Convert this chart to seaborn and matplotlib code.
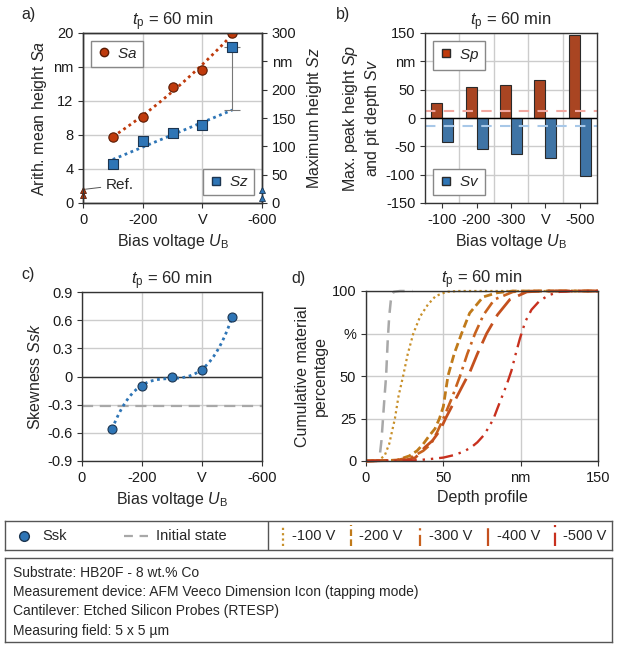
import numpy as np
import pandas as pd
import matplotlib
matplotlib.use("Agg")
import matplotlib.pyplot as plt
from matplotlib.lines import Line2D
import seaborn as sns

# ---- data ----
voltages = [-100, -200, -300, -400, -500]
volt_cats = ["-100", "-200", "-300", "-400", "-500"]
bar_ticklabels = ["-100", "-200", "-300", "V", "-500"]

sa_nm = [7.8, 10.1, 13.7, 15.7, 20.0]        # left axis, nm
sz_nm = [69, 109, 123, 137, 276]             # right axis, nm
sa_ref = [1.5, 1.0]
sz_ref = [23, 9]

sp_nm = [27, 55, 59, 67, 146]
sv_nm = [-42, -54, -63, -70, -102]
sp_init = 13
sv_init = -14

ssk = [-0.56, -0.10, -0.01, 0.07, 0.63]
ssk_init = -0.31

# cumulative material curves (depth nm, percent)
depth_init = [0, 7, 9, 10, 11, 12, 13, 14, 15, 16, 17, 18, 22, 30]
pct_init = [0, 0, 4, 12, 25, 38, 50, 70, 85, 94, 98, 99.5, 100, 100]
depth_100 = [0, 8, 12, 15, 18.7, 21, 24, 27, 30.6, 35, 40, 45, 52, 60, 150]
pct_100 = [0, 0.5, 3, 10, 25, 38, 50, 63, 75, 85, 92, 97, 99.5, 100, 100]
depth_200 = [0, 20, 28, 33, 37, 41, 44.6, 47.5, 50, 53, 57, 61.8, 67, 75.7, 85, 95, 150]
pct_200 = [0, 0.5, 3, 6, 10, 15, 19, 25, 32, 50, 63, 75, 87, 96.5, 99, 100, 100]
depth_300 = [0, 20, 30, 37, 42, 46, 50, 55.5, 60.8, 65.5, 70.5, 76, 83, 95, 105, 150]
pct_300 = [0, 0.5, 2.5, 6, 10, 17, 25, 37, 50, 63, 75, 86, 95, 99.5, 100, 100]
depth_400 = [0, 25, 32, 38, 43, 47.8, 52, 56, 60, 64, 67, 72, 78, 85, 93, 104, 115, 150]
pct_400 = [0, 0.5, 2, 8, 12, 18, 26, 33, 40, 47, 52, 63, 75, 86, 95, 99.5, 100, 100]
depth_500 = [0, 30, 40, 50, 57, 63, 68, 72, 76, 79.5, 82.5, 85, 88, 91, 94,
             96.5, 99.5, 103, 107, 112, 118, 125, 135, 150]
pct_500 = [0, 0.3, 1, 2, 3.5, 5.5, 8, 11, 15, 20, 25, 31, 38, 45, 53,
           62, 72, 82, 89, 94, 97.5, 99.5, 100, 100]

info_lines = ["Substrate: HB20F - 8 wt.% Co",
              "Measurement device: AFM Veeco Dimension Icon (tapping mode)",
              "Cantilever: Etched Silicon Probes (RTESP)",
              "Measuring field: 5 x 5 \u00b5m"]

# ---- style ----
sns.set_style("ticks")
plt.rcParams["font.family"] = ["Liberation Sans", "DejaVu Sans"]
plt.rcParams["font.size"] = 10
plt.rcParams["axes.labelsize"] = 11.5
plt.rcParams["xtick.labelsize"] = 10.5
plt.rcParams["ytick.labelsize"] = 10.5
plt.rcParams["mathtext.fontset"] = "custom"
plt.rcParams["mathtext.rm"] = "Liberation Sans"
plt.rcParams["mathtext.it"] = "Liberation Sans:italic"
plt.rcParams["axes.edgecolor"] = "#333333"
plt.rcParams["axes.linewidth"] = 1.0
plt.rcParams["xtick.color"] = "#333333"
plt.rcParams["ytick.color"] = "#333333"
plt.rcParams["xtick.labelcolor"] = "#1a1a1a"
plt.rcParams["ytick.labelcolor"] = "#1a1a1a"
plt.rcParams["xtick.major.size"] = 3.5
plt.rcParams["ytick.major.size"] = 3.5

red = "#BF3A0C"
red_edge = "#5a1c05"
blue = "#2E75B6"
blue_edge = "#1c3550"
grid_c = "#CCCCCC"
c100, c200, c300, c400, c500 = "#C8902A", "#C07A1A", "#C8621E", "#C4501E", "#C8301E"
gray = "#A8A8A8"

title = r"$t_\mathrm{p}$ = 60 min"
title_fs = 12
bias_label = r"Bias voltage $U_\mathrm{B}$"

W, H = 622, 647
fig = plt.figure(figsize=(W / 100, H / 100), dpi=100)


def rect(l, t, r, b):
    return [l / W, (H - b) / H, (r - l) / W, (b - t) / H]


def grid_on(ax):
    ax.grid(True, color=grid_c, lw=1)
    ax.set_axisbelow(True)


# ---- a) Sa / Sz ----
ax = fig.add_axes(rect(83, 33, 262, 203))
grid_on(ax)
ax.set_xlim(0, -600)
ax.set_ylim(0, 20)
ax.set_xticks([0, -200, -400, -600], ["0", "-200", "V", "-600"])
ax.set_yticks([0, 4, 8, 12, 16, 20], ["0", "4", "8", "12", "nm", "20"])
coef_sa = np.polyfit(voltages, sa_nm, 2)
xs = np.linspace(voltages[0], voltages[-1], 60)
ax.plot(xs, np.polyval(coef_sa, xs), ls=(0, (1, 1.3)), color=red, lw=2)
sns.scatterplot(x=voltages, y=sa_nm, ax=ax, color=red, edgecolor=red_edge,
                s=45, marker="o", linewidth=0.8, zorder=5, legend=False)
ax.plot([0] * len(sa_ref), sa_ref, ls="", marker="^", ms=5, color=red,
        mec=red_edge, mew=0.6, clip_on=False, zorder=6)
ax.annotate("Ref.", xy=(-3, 1.6), xytext=(-75, 2.1), va="center", ha="left",
            fontsize=11,
            arrowprops=dict(arrowstyle="-", color="#555555", lw=0.7,
                            shrinkA=1, shrinkB=1))
ax.set_xlabel(bias_label)
ax.set_ylabel(r"Arith. mean height $Sa$", labelpad=3)
ax.set_title(title, fontsize=title_fs, pad=4)

ax2 = ax.twinx()
ax2.set_ylim(0, 300)
ax2.set_yticks([0, 50, 100, 150, 200, 250, 300],
               ["0", "50", "100", "150", "200", "nm", "300"])
coef_sz = np.polyfit(voltages[:4], sz_nm[:4], 1)
ax2.plot(xs, np.polyval(coef_sz, xs), ls=(0, (1, 1.3)), color=blue, lw=2)
sz_fit_end = np.polyval(coef_sz, voltages[-1])
ax2.errorbar([voltages[-1]], [(sz_nm[-1] + sz_fit_end) / 2],
             yerr=[(sz_nm[-1] - sz_fit_end) / 2], color="#777777", lw=0.8,
             capsize=6, capthick=0.8, fmt="none")
sns.scatterplot(x=voltages, y=sz_nm, ax=ax2, color=blue, edgecolor=blue_edge,
                s=42, marker="s", linewidth=0.8, zorder=5, legend=False)
ax2.plot([-600] * len(sz_ref), sz_ref, ls="", marker="^", ms=5, color=blue,
         mec=blue_edge, mew=0.6, clip_on=False, zorder=6)
ax2.set_ylabel(r"Maximum height $Sz$", labelpad=6)
ax2.set_xlim(0, -600)
leg_kw = dict(frameon=True, fancybox=False, edgecolor="#888888", framealpha=1,
              handletextpad=0.3, borderpad=0.4, handlelength=1.0, fontsize=11)
la = ax2.legend(handles=[Line2D([], [], ls="", marker="o", color=red, mec=red_edge,
                                ms=6, label=r"$Sa$")], loc="upper left", **leg_kw)
ax2.add_artist(la)
ax2.legend(handles=[Line2D([], [], ls="", marker="s", color=blue, mec=blue_edge,
                           ms=6, label=r"$Sz$")], loc="lower right", **leg_kw)

# ---- b) Sp / Sv ----
axb = fig.add_axes(rect(425, 33, 597, 203))
grid_on(axb)
df_b = pd.DataFrame({"voltage": volt_cats * 2,
                     "value": sp_nm + sv_nm,
                     "param": ["Sp"] * 5 + ["Sv"] * 5})
sns.barplot(data=df_b, x="voltage", y="value", hue="param", order=volt_cats,
            palette={"Sp": red, "Sv": blue}, width=0.64, edgecolor="#2a2a2a",
            linewidth=0.8, ax=axb, legend=False)
axb.axhline(0, color="black", lw=1, zorder=3)
axb.axhline(sp_init, ls=(0, (5, 4)), color="#F2A8A0", lw=1.5, zorder=1)
axb.axhline(sv_init, ls=(0, (5, 4)), color="#A8C8E8", lw=1.5, zorder=1)
axb.set_xlim(-0.5, 4.5)
axb.set_ylim(-150, 150)
axb.set_xticks(range(5), bar_ticklabels)
axb.set_xticks(np.arange(0.5, 4.5, 1), minor=True)
axb.grid(True, which="minor", axis="x", color=grid_c, lw=1)
axb.tick_params(axis="x", which="minor", length=0)
axb.set_yticks([-150, -100, -50, 0, 50, 100, 150],
               ["-150", "-100", "-50", "0", "50", "nm", "150"])
axb.set_xlabel(bias_label)
axb.set_ylabel("Max. peak height $Sp$\nand pit depth $Sv$", labelpad=3)
axb.set_title(title, fontsize=title_fs, pad=4)
lb = axb.legend(handles=[Line2D([], [], ls="", marker="s", color=red, mec="#2a2a2a",
                                ms=6, label=r"$Sp$")], loc="upper left", **leg_kw)
axb.add_artist(lb)
axb.legend(handles=[Line2D([], [], ls="", marker="s", color=blue, mec="#2a2a2a",
                           ms=6, label=r"$Sv$")], loc="lower left", **leg_kw)

# ---- c) Ssk ----
axc = fig.add_axes(rect(82, 292, 262, 461))
grid_on(axc)
axc.set_xlim(0, -600)
axc.set_ylim(-0.9, 0.9)
axc.set_xticks([0, -200, -400, -600], ["0", "-200", "V", "-600"])
axc.set_yticks([-0.9, -0.6, -0.3, 0, 0.3, 0.6, 0.9],
               ["-0.9", "-0.6", "-0.3", "0", "0.3", "0.6", "0.9"])
axc.axhline(0, color="#333333", lw=1, zorder=2)
axc.axhline(ssk_init, ls=(0, (5, 3)), color="#A8A8A8", lw=1.6, zorder=2)
coef_ssk = np.polyfit(voltages, ssk, 3)
axc.plot(xs, np.polyval(coef_ssk, xs), ls=(0, (1, 1.3)), color=blue, lw=2, zorder=3)
sns.scatterplot(x=voltages, y=ssk, ax=axc, color=blue, edgecolor=blue_edge,
                s=42, marker="o", linewidth=0.8, zorder=5, legend=False)
axc.set_xlabel(bias_label)
axc.set_ylabel(r"Skewness $Ssk$", labelpad=3)
axc.set_title(title, fontsize=title_fs, pad=4)

# ---- d) cumulative material ----
axd = fig.add_axes(rect(366, 291, 598, 461))
grid_on(axd)
axd.set_xlim(0, 150)
axd.set_ylim(0, 100)
axd.set_xticks([0, 50, 100, 150], ["0", "50", "nm", "150"])
axd.set_yticks([0, 25, 50, 75, 100], ["0", "25", "50", "%", "100"])
curves = [
    (depth_init, pct_init, gray, (0, (5, 3)), 1.8),
    (depth_100, pct_100, c100, (0, (1, 1.4)), 1.6),
    (depth_200, pct_200, c200, (0, (3, 1.5)), 2.0),
    (depth_300, pct_300, c300, (0, (5, 2, 1, 2)), 1.9),
    (depth_400, pct_400, c400, (0, (8, 3)), 2.0),
    (depth_500, pct_500, c500, (0, (6, 2.5, 1, 2.5, 1, 2.5)), 1.7),
]
for dx, py, col, ls, lw in curves:
    axd.plot(dx, py, color=col, ls=ls, lw=lw, clip_on=False)
axd.set_xlabel("Depth profile")
axd.set_ylabel("Cumulative material\npercentage", labelpad=3)
axd.set_title(title, fontsize=title_fs, pad=4)

# panel letters
for lx, ly, letter in [(28, 15, "a)"), (343, 15, "b)"), (28, 274, "c)"), (298, 278, "d)")]:
    fig.text(lx / W, 1 - ly / H, letter, ha="center", va="center", fontsize=11.5)

# ---- bottom legend row ----
axl = fig.add_axes(rect(5, 521, 612, 550))
axl.set_xlim(0, 1)
axl.set_ylim(0, 1)
axl.set_xticks([])
axl.set_yticks([])
for s in axl.spines.values():
    s.set_color("#555555")
axl.plot([0.031], [0.5], marker="o", ls="", color=blue, mec=blue_edge, ms=7)
axl.text(0.062, 0.5, "Ssk", va="center", fontsize=10.5)
axl.plot([0.196, 0.236], [0.5, 0.5], color=gray, ls=(0, (4, 3)), lw=1.6)
axl.text(0.248, 0.5, "Initial state", va="center", fontsize=10.5)
axl.plot([0.433, 0.433], [0, 1], color="#555555", lw=1)
leg_items = [("-100 V", c100, (0, (1, 1.4)), 0.458),
             ("-200 V", c200, (0, (3, 1.5)), 0.570),
             ("-300 V", c300, (0, (5, 2, 1, 2)), 0.684),
             ("-400 V", c400, (0, (8, 3)), 0.796),
             ("-500 V", c500, (0, (6, 2.5, 1, 2.5, 1, 2.5)), 0.906)]
for lab, col, ls, xp in leg_items:
    axl.plot([xp, xp], [0.15, 0.85], color=col, ls=ls, lw=1.6)
    axl.text(xp + 0.014, 0.5, lab, va="center", fontsize=10.5)

# ---- info box ----
axi = fig.add_axes(rect(5, 558, 612, 642))
axi.set_xlim(0, 1)
axi.set_ylim(0, 1)
axi.set_xticks([])
axi.set_yticks([])
for s in axi.spines.values():
    s.set_color("#555555")
for i, line in enumerate(info_lines):
    axi.text(0.013, 0.82 - i * 0.228, line, va="center")

fig.savefig("out.png", dpi=100)
